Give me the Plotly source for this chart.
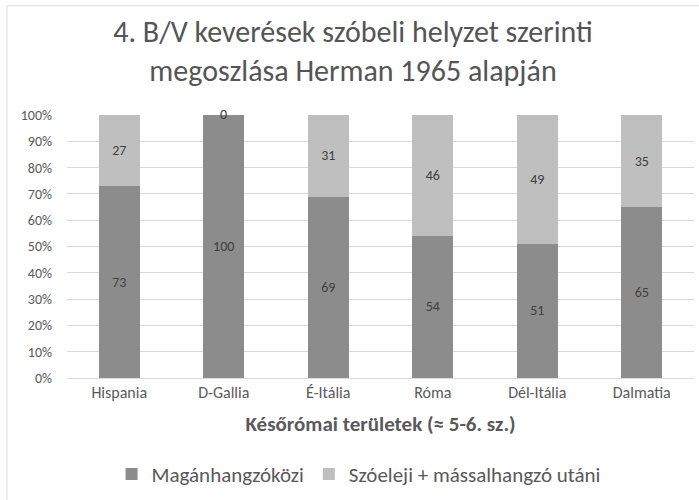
import plotly.graph_objects as go

categories = ["Hispania", "D-Gallia", "É-Itália", "Róma", "Dél-Itália", "Dalmatia"]
maganhangzokozi = [73, 100, 69, 54, 51, 65]
szoeleji = [27, 0, 31, 46, 49, 35]
y_ticks = [0, 10, 20, 30, 40, 50, 60, 70, 80, 90, 100]
y_tick_labels = [f"{v}%" for v in y_ticks]

FONT = "Carlito, Lato, sans-serif"
TXT = "#595959"
fig = go.Figure()
fig.add_trace(go.Bar(
    x=categories, y=maganhangzokozi, name="Magánhangzóközi",
    marker=dict(color="#8c8c8c", line=dict(width=0)),
    text=[str(v) if v > 0 else "" for v in maganhangzokozi],
    textposition="inside", insidetextanchor="middle",
    textfont=dict(color="#404040", size=14, family=FONT),
))
fig.add_trace(go.Bar(
    x=categories, y=szoeleji, name="Szóeleji + mássalhangzó utáni",
    marker=dict(color="#bfbfbf", line=dict(width=0)),
    text=[str(v) if v > 0 else "" for v in szoeleji],
    textposition="inside", insidetextanchor="middle",
    textfont=dict(color="#404040", size=14, family=FONT),
))
for c, a, b in zip(categories, maganhangzokozi, szoeleji):
    if b == 0:
        fig.add_annotation(x=c, y=a + b, text=str(b), showarrow=False,
                           font=dict(color="#404040", size=14, family=FONT),
                           yshift=1)

fig.update_layout(
    barmode="stack", bargap=0.61,
    width=699, height=500,
    paper_bgcolor="white", plot_bgcolor="white",
    margin=dict(l=67, r=5, t=115, b=120),
    title=dict(text="4. B/V keverések szóbeli helyzet szerinti<br>megoszlása Herman 1965 alapján",
               x=353 / 699, xanchor="center", xref="container", y=1 - 42 / 500, yanchor="middle",
               font=dict(size=30, color="#555555", family=FONT)),
    xaxis=dict(title=dict(text="<b>Későrómai területek (≈ 5-6. sz.)</b>",
                          font=dict(size=21, color=TXT, family=FONT), standoff=15),
               tickfont=dict(size=16, color=TXT, family=FONT),
               showline=True, linecolor="#d9d9d9", ticks="", automargin=False),
    yaxis=dict(range=[0, 100], tickmode="array", tickvals=y_ticks, ticktext=y_tick_labels,
               tickfont=dict(size=14, color=TXT, family=FONT),
               gridcolor="#d9d9d9", zeroline=False, ticks="", automargin=False,
               ticklabelstandoff=14),
    legend=dict(orientation="h", x=0.465, xanchor="center", y=-0.366, yanchor="middle",
                font=dict(size=21, color=TXT, family=FONT), traceorder="normal",
                itemwidth=30),
    showlegend=True,
)
fig.add_shape(type="rect", xref="paper", yref="paper",
              x0=(7 - 67) / 627, x1=1.05, y0=-0.5, y1=(380 - 5) / 265,
              line=dict(color="#d9d9d9", width=1))
fig.write_html("out.html", config={"displayModeBar": False},
               post_script="document.body.style.margin='0';")
